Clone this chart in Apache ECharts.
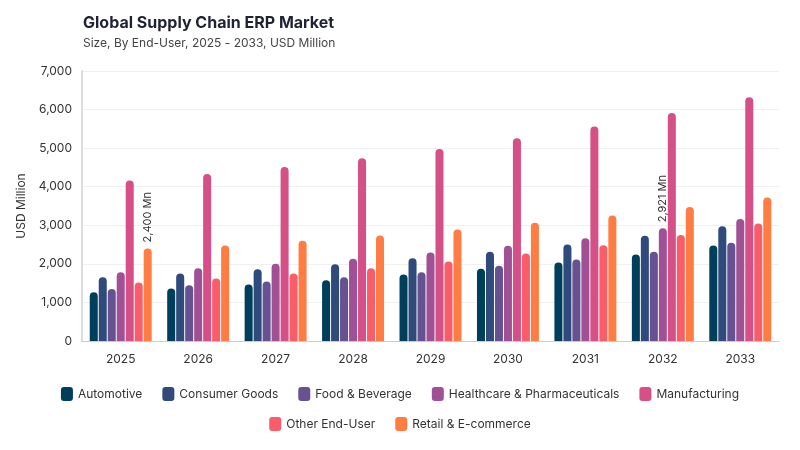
<!DOCTYPE html>
<html>
<head>
<meta charset="utf-8">
<script src="https://cdn.jsdelivr.net/npm/echarts@6/dist/echarts.min.js"></script>
<style>
  html, body { margin: 0; padding: 0; background: #fff; }
  #chart { width: 800px; height: 450px; }
</style>
</head>
<body>
<div id="chart"></div>
<script>
const years = ['2025', '2026', '2027', '2028', '2029', '2030', '2031', '2032', '2033'];
const seriesNames = ['Automotive', 'Consumer Goods', 'Food & Beverage', 'Healthcare & Pharmaceuticals', 'Manufacturing', 'Other End-User', 'Retail & E-commerce'];
const automotive = [1265, 1359, 1463, 1576, 1723, 1870, 2034, 2242, 2476];
const consumerGoods = [1655, 1748, 1862, 1992, 2147, 2312, 2502, 2727, 2978];
const foodBeverage = [1350, 1446, 1541, 1654, 1784, 1948, 2112, 2312, 2545];
const healthcare = [1784, 1888, 2000, 2130, 2294, 2468, 2667, 2921, 3160];
const manufacturing = [4164, 4329, 4511, 4736, 4978, 5255, 5558, 5913, 6320];
const otherEndUser = [1514, 1619, 1748, 1887, 2060, 2268, 2485, 2745, 3047];
const retail = [2400, 2476, 2597, 2736, 2892, 3065, 3255, 3472, 3723];
const yTicks = [0, 1000, 2000, 3000, 4000, 5000, 6000, 7000];

const colors = ['#003f5c', '#2f4b7c', '#665191', '#a05195', '#d45087', '#f95d6a', '#ff7c43'];
const allValues = [automotive, consumerGoods, foodBeverage, healthcare, manufacturing, otherEndUser, retail];
// which points carry a value label: [series index, year index]
const labelled = [[6, 0], [3, 7]];

const chart = echarts.init(document.getElementById('chart'));

const series = allValues.map((vals, si) => ({
  name: seriesNames[si],
  type: 'bar',
  barGap: '12%',
  barCategoryGap: '20%',
  itemStyle: { color: colors[si], borderRadius: [4, 4, 0, 0] },
  data: vals.map((v, yi) => {
    const show = labelled.some(l => l[0] === si && l[1] === yi);
    if (!show) return v;
    return {
      value: v,
      label: {
        show: true,
        position: 'top',
        rotate: 90,
        align: 'left',
        verticalAlign: 'middle',
        distance: 6,
        color: '#333',
        fontSize: 11,
        fontFamily: 'Inter',
        formatter: (p) => p.value.toLocaleString('en-US') + ' Mn'
      }
    };
  })
}));

const legendBase = {
  left: 'center',
  icon: 'roundRect',
  itemWidth: 12,
  itemHeight: 14,
  itemGap: 20,
  textStyle: { fontFamily: 'Inter', fontSize: 12, color: '#333' }
};

chart.setOption({
  animation: false,
  color: colors,
  title: {
    text: 'Global Supply Chain ERP Market',
    subtext: 'Size, By End-User, 2025 - 2033, USD Million',
    left: 78,
    top: 10,
    itemGap: 6,
    textStyle: { fontFamily: 'Inter', fontSize: 16, fontWeight: 'bold', color: '#1f2233' },
    subtextStyle: { fontFamily: 'Inter', fontSize: 12, color: '#444' }
  },
  grid: { left: 82, right: 21, top: 71, bottom: 109, containLabel: false },
  legend: [
    Object.assign({}, legendBase, { data: seriesNames.slice(0, 5), top: 382 }),
    Object.assign({}, legendBase, { data: seriesNames.slice(5), top: 412 })
  ],
  xAxis: {
    type: 'category',
    data: years,
    axisLine: { lineStyle: { color: '#ccc' } },
    axisTick: { show: false },
    axisLabel: { color: '#333', fontSize: 12, fontFamily: 'Inter', margin: 12 }
  },
  yAxis: {
    type: 'value',
    min: yTicks[0],
    max: yTicks[yTicks.length - 1],
    interval: 1000,
    name: 'USD Million',
    nameLocation: 'middle',
    nameGap: 52,
    nameTextStyle: { color: '#333', fontSize: 12, fontFamily: 'Inter' },
    axisLine: { show: true, lineStyle: { color: '#ddd', width: 2 } },
    axisLabel: {
      color: '#333', fontSize: 12, fontFamily: 'Inter', margin: 10,
      formatter: (v) => v.toLocaleString('en-US')
    },
    splitLine: { lineStyle: { color: '#f0f0f0' } }
  },
  series: series
});
</script>
</body>
</html>
